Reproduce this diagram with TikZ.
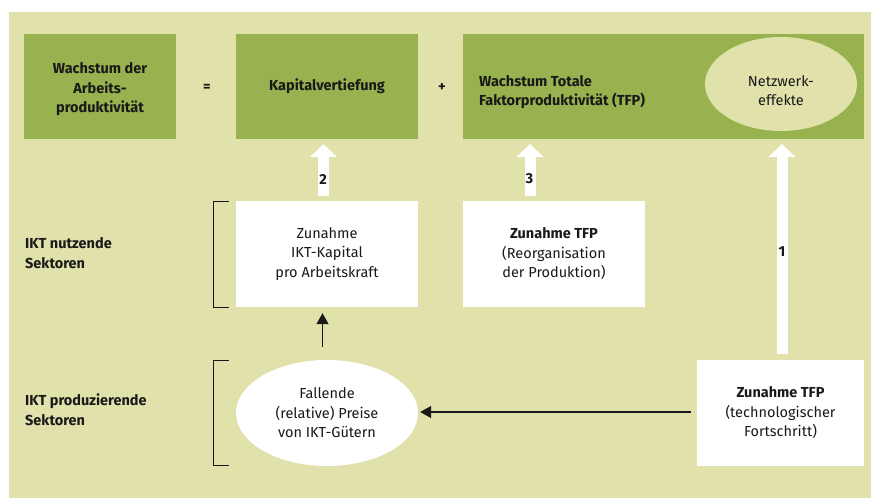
\documentclass[tikz,border=0pt]{standalone}
\usepackage{fontspec}
\setmainfont{Fira Sans}
\usetikzlibrary{shapes.geometric,arrows.meta}
\definecolor{bg}{RGB}{225,225,172}
\definecolor{gr}{RGB}{151,178,78}
\definecolor{ink}{RGB}{25,25,25}
\newcommand{\fs}{\fontsize{14.5}{19.5}\selectfont}
\tikzset{
  txt/.style={font=\fs, text=ink, align=center},
  greenbox/.style={txt, fill=gr, inner sep=0pt, font=\fs\bfseries},
  whitebox/.style={txt, fill=white, inner sep=0pt, minimum width=182pt, minimum height=106pt},
  oval/.style={txt, ellipse, inner sep=0pt},
  blockarrow/.style={draw=white, line width=11pt, -{Triangle[width=27pt 0 0, length=13pt 0 0]}},
  thinarrow/.style={draw=ink, line width=1.2pt, -{Triangle[width=12pt 0 0, length=11pt 0 0]}},
  numlabel/.style={font=\fs\bfseries, text=ink, inner sep=0pt},
  sidelabel/.style={txt, font=\fs\bfseries, align=left, anchor=west, inner sep=0pt},
  bracket/.style={draw=ink, line width=1pt}
}
\begin{document}
\begin{tikzpicture}[x=1pt,y=-1pt]
\useasboundingbox (0,0) rectangle (871,498);
\fill[bg] (9,12) rectangle (871,498);

% top row
\node[greenbox, minimum width=152pt, minimum height=105pt] (A) at (100,86.5) {};
\node[txt, font=\fs\bfseries, inner sep=0pt] (At) at (100,89.5) {Wachstum der\\Arbeits-\\produktivität};
\node[greenbox, minimum width=182pt, minimum height=105pt] (B) at (327,86.5) {Kapitalvertiefung};
\node[greenbox, minimum width=401pt, minimum height=105pt] (C) at (663.5,86.5) {};
\node[txt, font=\fs\bfseries, align=left, anchor=west, inner sep=0pt] (Ct) at (479,92) {Wachstum Totale\\Faktorproduktivität (TFP)};
\node[oval, fill=bg, minimum width=152pt, minimum height=94pt] (N) at (781,84) {};
\node[txt, inner sep=0pt] (Nt) at (781,90.5) {Netzwerk-\\effekte};
\node[txt, font=\fs\bfseries, inner sep=0pt] (eq) at (207,88) {=};
\node[txt, font=\fs\bfseries, inner sep=0pt] (pl) at (442,88) {+};

% middle row
\node[whitebox] (D) at (327,254) {Zunahme\\IKT-Kapital\\pro Arbeitskraft};
\node[whitebox] (E) at (554,254) {\textbf{Zunahme TFP}\\(Reorganisation\\der Produktion)};

% bottom row
\node[oval, fill=white, minimum width=182pt, minimum height=106pt] (G) at (327,413) {Fallende\\(relative) Preise\\von IKT-Gütern};
\node[whitebox, minimum width=167pt] (F) at (780.5,413) {\textbf{Zunahme TFP}\\(technologischer\\Fortschritt)};

% side labels
\node[sidelabel] (L1) at (25,253) {IKT nutzende\\Sektoren};
\node[sidelabel] (L2) at (25,409.5) {IKT produzierende\\Sektoren};

% brackets
\draw[bracket] (229,201) -- (213,201) -- (213,307) -- (229,307);
\draw[bracket] (229,360) -- (213,360) -- (213,465) -- (229,465);

% block arrows
\draw[blockarrow] ([xshift=-3.5pt,yshift=5pt]D.north) -- ([xshift=-3.5pt,yshift=-5pt]D.north |- B.south);
\draw[blockarrow] ([xshift=-24pt,yshift=5pt]E.north) -- ([xshift=-24pt,yshift=-5pt]E.north |- C.south);
\draw[blockarrow] ([xshift=1.5pt,yshift=6pt]F.north) -- ([xshift=1.5pt,yshift=-5pt]F.north |- C.south);
\node[numlabel] (n2) at (323,179) {2};
\node[numlabel] (n3) at (529.5,179) {3};
\node[numlabel] (n1) at (782,252) {1};

% thin arrows
\draw[thinarrow] ([xshift=-4.5pt,yshift=13pt]G.north) -- ([xshift=-4.5pt,yshift=-6pt]D.south);
\draw[thinarrow] ([xshift=-6pt,yshift=1pt]F.west) -- ([xshift=2pt,yshift=1pt]G.east);
\end{tikzpicture}
\end{document}
